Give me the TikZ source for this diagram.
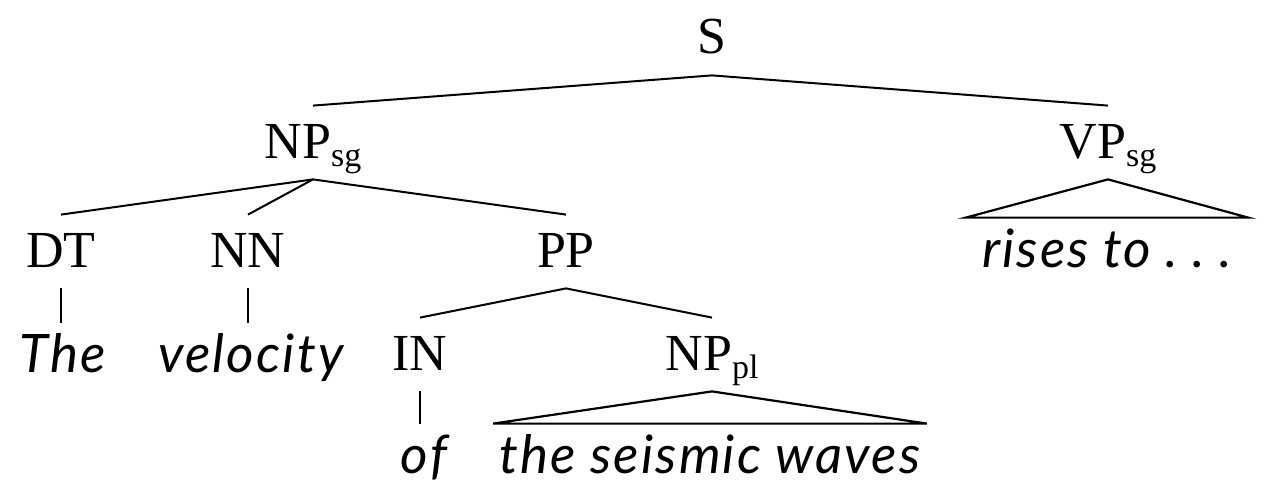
\documentclass[tikz,border=0pt]{standalone}
\usepackage{fontspec}
\setmainfont{Liberation Serif}
\newfontfamily\wordfont[LetterSpace=4]{Lato}
\usetikzlibrary{positioning}
\newcommand{\catsub}[1]{\raisebox{-4pt}{\fontsize{17}{17}\selectfont #1}}

\begin{document}
\begin{tikzpicture}[
            x=0.5pt, y=-0.5pt,
            cat/.style={font=\fontsize{26}{30}\selectfont, inner xsep=0pt, inner ysep=8.5pt, text height=17.5pt, text depth=2pt, anchor=base},
            word/.style={font=\wordfont\itshape\fontsize{26.5}{30}\selectfont, inner xsep=3pt, inner ysep=5.5pt, text height=19pt, text depth=5pt, anchor=base},
            branch/.style={line width=1pt},
            roof/.style={line width=1.1pt, line join=miter}
        ]
            \useasboundingbox (0,0) rectangle (1266,482);

            % categories
            \node[cat] (S) at (712,54) {S};
            \node[cat] (NPsg) at (313,158) {NP\catsub{sg}};
            \node[cat] (VPsg) at (1108,158) {VP\catsub{sg}};
            \node[cat] (DT) at (61,267) {DT};
            \node[cat] (NN) at (248,267) {NN};
            \node[cat] (PP) at (566,267) {PP};
            \node[cat] (IN) at (420,370) {IN};
            \node[cat] (NPpl) at (712,370) {NP\catsub{pl}};

            % words
            \node[word] (wThe) at (63,372) {The};
            \node[word] (wVelocity) at (251,372) {velocity};
            \node[word] (wOf) at (424,473) {of};
            \node[word] (wWaves) at (710,473) {the seismic waves};
            \node[word, inner xsep=8pt] (wRises) at (1107,267) {rises to .~.~.};

            \draw[branch] (S.south) -- (NPsg.north);
            \draw[branch] (S.south) -- (VPsg.north);
            \draw[branch] (NPsg.south) -- (DT.north);
            \draw[branch] (NPsg.south) -- (NN.north);
            \draw[branch] (NPsg.south) -- (PP.north);
            \draw[branch] (PP.south) -- (IN.north);
            \draw[branch] (PP.south) -- (NPpl.north);
            \draw[branch] (DT.south) -- (DT.south |- wThe.north);
            \draw[branch] (NN.south) -- (NN.south |- wVelocity.north);
            \draw[branch] (IN.south) -- (IN.south |- wOf.north);
            \draw[roof] (NPpl.south) -- (wWaves.north east) -- (wWaves.north west) -- cycle;
            \draw[roof] (VPsg.south) -- (wRises.north east) -- (wRises.north west) -- cycle;
        \end{tikzpicture}
\end{document}
